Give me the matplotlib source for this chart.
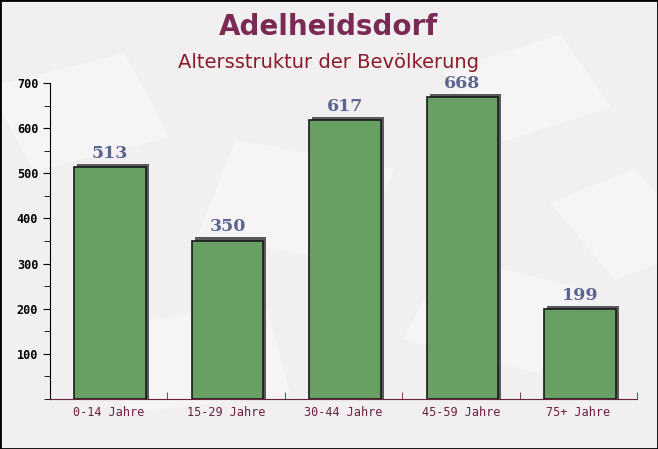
import matplotlib
matplotlib.use("Agg")
import matplotlib.pyplot as plt
from matplotlib.ticker import MultipleLocator, FixedLocator
from matplotlib.transforms import offset_copy
import matplotlib.patches as mpatches

categories = ["0-14 Jahre", "15-29 Jahre", "30-44 Jahre", "45-59 Jahre", "75+ Jahre"]
values = [513, 350, 617, 668, 199]
title = "Adelheidsdorf"
subtitle = "Altersstruktur der Bevölkerung"

W, H = 658, 449
fig = plt.figure(figsize=(W / 100, H / 100), dpi=100)
fig.patch.set_facecolor("#f2eff0")

# faint decorative background sheets
for (cx, cy, w, h, ang) in [(0.12, 0.75, 0.22, 0.2, 20), (0.45, 0.55, 0.25, 0.22, -15),
                            (0.8, 0.8, 0.2, 0.18, 25), (0.3, 0.2, 0.25, 0.2, 10),
                            (0.75, 0.3, 0.22, 0.2, -20), (0.95, 0.5, 0.15, 0.2, 30)]:
    fig.add_artist(mpatches.Rectangle((cx - w / 2, cy - h / 2), w, h, angle=ang,
                                      rotation_point="center", transform=fig.transFigure,
                                      facecolor="white", alpha=0.35, edgecolor="none",
                                      zorder=0))

fig.add_artist(mpatches.Rectangle((0, 0), 1, 1, transform=fig.transFigure,
                                  fill=False, edgecolor="black", linewidth=2, zorder=5))

ax = fig.add_axes([50 / W, 1 - 399 / H, 587 / W, (399 - 83) / H])
ax.set_facecolor("none")
ax.set_xlim(-0.5, len(categories) - 0.5)
ax.set_ylim(0, 700)

bw = 0.61
shift = 0.012
x = list(range(len(categories)))
dy = 3.5 * 700 / 316  # shadow raise in data units (~3.5 px)
sh_tr = offset_copy(ax.transData, fig=fig, x=3, y=0, units="dots")
for xi, v in zip(x, values):
    ax.add_patch(mpatches.Rectangle((xi - bw / 2 + shift, 0), bw, v + dy, transform=sh_tr,
                                    facecolor="#5c5a5c", edgecolor="none", zorder=1))
ax.bar([xi + shift for xi in x], values, width=bw, color="#68a064", edgecolor="#1a1a1a",
       linewidth=1.2, zorder=2)

for xi, v in zip(x, values):
    ax.annotate(str(v), (xi + shift, v), xytext=(0, 4), textcoords="offset points",
                ha="center", va="bottom", fontsize=12.5, fontweight="bold",
                family="DejaVu Serif", color="#5a6690", zorder=3)

for s in ["top", "right"]:
    ax.spines[s].set_visible(False)
ax.spines["left"].set_color("black")
ax.spines["bottom"].set_color("#6b2140")

ax.set_yticks([100, 200, 300, 400, 500, 600, 700])
ax.yaxis.set_minor_locator(MultipleLocator(50))
ax.tick_params(axis="y", which="major", length=5, direction="out", labelsize=8.5,
               colors="black")
ax.tick_params(axis="y", which="minor", length=4, direction="out")
for lbl in ax.get_yticklabels():
    lbl.set_family("DejaVu Sans Mono")
    lbl.set_fontweight("bold")

ax.set_xticks(x)
ax.set_xticklabels(categories, family="DejaVu Sans Mono", fontsize=8.5, color="#6b2140")
ax.tick_params(axis="x", which="major", length=0, pad=5)
ax.xaxis.set_minor_locator(FixedLocator([i + 0.5 for i in x]))
ax.tick_params(axis="x", which="minor", length=5, direction="in", color="#6b2140")

fig.text(0.5, 1 - 27 / H, title, ha="center", va="center", fontsize=20,
         fontweight="bold", color="#7a2a55")
fig.text(0.5, 1 - 62 / H, subtitle, ha="center", va="center", fontsize=14,
         color="#8b1a2a")

fig.savefig("out.png", dpi=100, facecolor=fig.get_facecolor())
